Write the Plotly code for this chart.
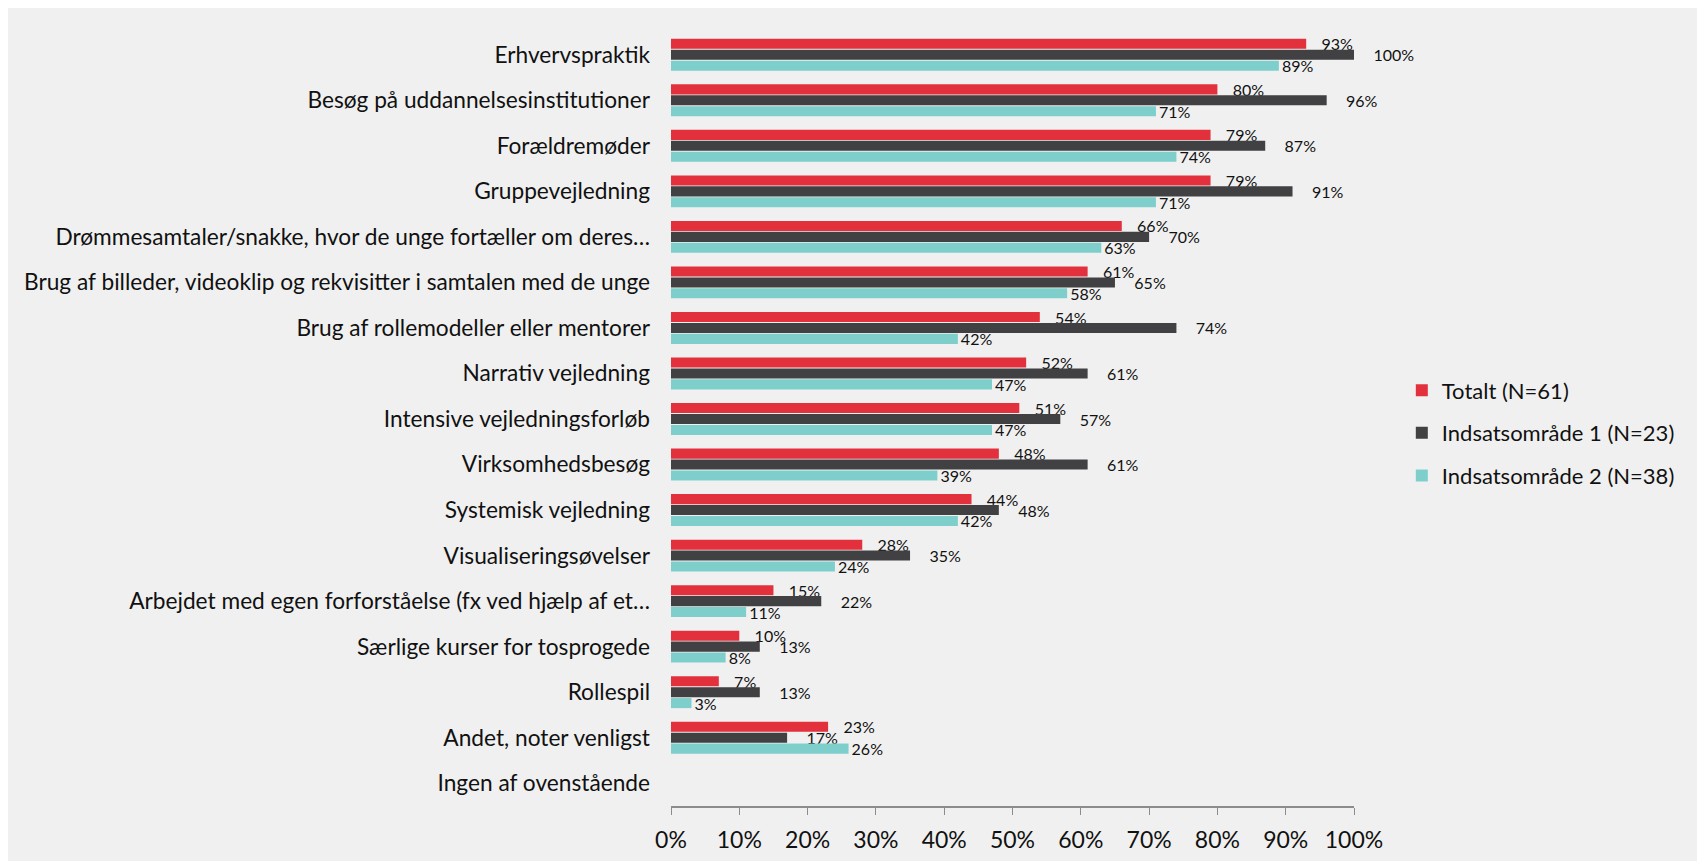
import plotly.graph_objects as go

categories = [
    "Erhvervspraktik",
    "Besøg på uddannelsesinstitutioner",
    "Forældremøder",
    "Gruppevejledning",
    "Drømmesamtaler/snakke, hvor de unge fortæller om deres…",
    "Brug af billeder, videoklip og rekvisitter i samtalen med de unge",
    "Brug af rollemodeller eller mentorer",
    "Narrativ vejledning",
    "Intensive vejledningsforløb",
    "Virksomhedsbesøg",
    "Systemisk vejledning",
    "Visualiseringsøvelser",
    "Arbejdet med egen forforståelse (fx ved hjælp af et…",
    "Særlige kurser for tosprogede",
    "Rollespil",
    "Andet, noter venligst",
    "Ingen af ovenstående",
]
totalt = [93, 80, 79, 79, 66, 61, 54, 52, 51, 48, 44, 28, 15, 10, 7, 23, None]
omr1 = [100, 96, 87, 91, 70, 65, 74, 61, 57, 61, 48, 35, 22, 13, 13, 17, None]
omr2 = [89, 71, 74, 71, 63, 58, 42, 47, 47, 39, 42, 24, 11, 8, 3, 26, None]
series_names = ["Totalt (N=61)", "Indsatsområde 1 (N=23)", "Indsatsområde 2 (N=38)"]
colors = ["#E3303D", "#414143", "#7ECFCB"]
label_pads = ["\u00a0\u00a0\u00a0", "\u00a0\u00a0\u00a0\u00a0", ""]
tick_vals = [0, 10, 20, 30, 40, 50, 60, 70, 80, 90, 100]
tick_text = [f"{v}%" for v in tick_vals]

FONT = "Lato, Open Sans, sans-serif"

fig = go.Figure()
for i, (name, vals, col, pad) in enumerate(zip(series_names, [totalt, omr1, omr2], colors, label_pads)):
    fig.add_trace(go.Bar(
        y=categories, x=vals, orientation="h", name=name,
        marker=dict(color=col, line=dict(width=0)),
        text=[f"{pad}{v}%" if v is not None else "" for v in vals],
        textposition="outside", cliponaxis=False, constraintext="none",
        textfont=dict(family=FONT, size=16, color="#111111"),
        legendgroup=f"g{i}",
    ))

W, H = 1689, 853
fig.update_layout(
    barmode="group", bargap=0.28, bargroupgap=0.08,
    width=W, height=H,
    paper_bgcolor="#F0F0F0", plot_bgcolor="#F0F0F0",
    margin=dict(l=663, r=343, t=24, b=55),
    font=dict(family=FONT, color="#111111"),
    showlegend=True,
    legend=dict(x=1.07, y=0.482, xanchor="left", yanchor="middle",
                font=dict(size=22), tracegroupgap=11, bgcolor="rgba(0,0,0,0)"),
)
fig.update_xaxes(range=[0, 100], tickvals=tick_vals, ticktext=tick_text,
                 showgrid=False, zeroline=False, showline=True, linecolor="#8C8C8C",
                 linewidth=2, ticks="outside", ticklen=7, tickcolor="#8C8C8C",
                 tickfont=dict(size=23), ticklabelstandoff=5, fixedrange=True,
                 automargin=False)
fig.update_yaxes(autorange="reversed", showgrid=False, showline=False, ticks="",
                 tickfont=dict(size=22.7), ticklabelstandoff=20, automargin=False)

fig.write_html("out.html")
